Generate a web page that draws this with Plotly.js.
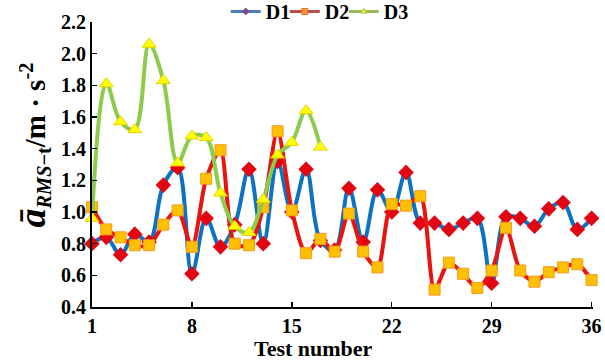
<!DOCTYPE html>
<html>
<head>
<meta charset="utf-8">
<script src="https://cdn.plot.ly/plotly-3.0.1.min.js"></script>
<style>html,body{margin:0;padding:0;background:#fff;}#chart{width:605px;height:363px;}</style>
</head>
<body>
<div id="chart"></div>
<script>
const testNumbers = Array.from({length: 36}, (_, i) => i + 1);
const d3Numbers = testNumbers.slice(0, 17);
const d1Values = [0.80, 0.84, 0.73, 0.86, 0.81, 1.17, 1.28, 0.61, 0.96, 0.78, 0.92, 1.27, 0.80, 1.32, 1.00, 1.27, 0.82, 0.76, 1.15, 0.81, 1.14, 1.00, 1.25, 0.93, 0.93, 0.89, 0.93, 0.96, 0.55, 0.97, 0.96, 0.91, 1.02, 1.06, 0.89, 0.96];
const d2Values = [1.03, 0.89, 0.84, 0.79, 0.79, 0.92, 1.01, 0.78, 1.21, 1.39, 0.80, 0.79, 1.03, 1.51, 1.01, 0.74, 0.83, 0.75, 0.99, 0.75, 0.65, 1.05, 1.04, 1.10, 0.51, 0.68, 0.61, 0.52, 0.63, 0.90, 0.63, 0.56, 0.62, 0.65, 0.67, 0.57];
const d3Values = [0.96, 1.81, 1.57, 1.52, 2.06, 1.83, 1.31, 1.48, 1.47, 1.12, 0.91, 0.87, 1.08, 1.36, 1.44, 1.64, 1.41];
const xTicks = [1, 8, 15, 22, 29, 36];
const seriesNames = ['D1', 'D2', 'D3'];

const serif = 'Liberation Serif';

const traces = [
  {x: testNumbers, y: d1Values, name: seriesNames[0], type: 'scatter', mode: 'lines+markers', showlegend: false, cliponaxis: false,
   line: {color: '#0E72C2', width: 4, shape: 'spline', smoothing: 1},
   marker: {symbol: 'diamond', size: 12, color: '#E20613', line: {width: 0}}},
  {x: testNumbers, y: d2Values, name: seriesNames[1], type: 'scatter', mode: 'lines+markers', showlegend: false, cliponaxis: false,
   line: {color: '#E8140E', width: 4, shape: 'spline', smoothing: 0.8},
   marker: {symbol: 'square', size: 11, color: '#FFC000', line: {width: 1, color: '#F39A1B'}}},
  {x: d3Numbers, y: d3Values, name: seriesNames[2], type: 'scatter', mode: 'lines+markers', showlegend: false, cliponaxis: false,
   line: {color: '#8DCB4A', width: 4, shape: 'spline', smoothing: 1},
   marker: {symbol: 'triangle-up', size: 12, color: '#FFFF00', line: {width: 1, color: '#E6D200'}}},
  {x: [null], y: [null], name: '<b>' + seriesNames[0] + '</b>', type: 'scatter', mode: 'lines+markers', showlegend: true,
   line: {color: '#4A7EBB', width: 3}, marker: {symbol: 'diamond', size: 6, color: '#7B4A8E'}},
  {x: [null], y: [null], name: '<b>' + seriesNames[1] + '</b>', type: 'scatter', mode: 'lines+markers', showlegend: true,
   line: {color: '#BE4B48', width: 3}, marker: {symbol: 'square', size: 6, color: '#F79646', line: {width: 1, color: '#E0761A'}}},
  {x: [null], y: [null], name: '<b>' + seriesNames[2] + '</b>', type: 'scatter', mode: 'lines+markers', showlegend: true,
   line: {color: '#9BBB59', width: 3}, marker: {symbol: 'triangle-up', size: 6, color: '#FFFF00', line: {width: 1, color: '#9BBB59'}}},
  {x: [null], y: [null], name: ' ', type: 'scatter', mode: 'none', showlegend: true}
];

const layout = {
  width: 605, height: 363,
  margin: {l: 92, r: 12, t: 22, b: 56, autoexpand: false},
  paper_bgcolor: '#fff', plot_bgcolor: '#fff',
  font: {family: serif, color: '#000'},
  showlegend: true,
  legend: {orientation: 'h', x: 0.267, xanchor: 'left', y: 1.037, yanchor: 'middle',
    font: {family: serif, size: 20, color: '#000'}, itemwidth: 30, tracegroupgap: 0,
    entrywidth: 14, entrywidthmode: 'pixels',
    bgcolor: 'rgba(0,0,0,0)'},
  xaxis: {
    range: [1, 36.1], tickvals: xTicks, ticktext: xTicks.map(v => '<b>' + v + '</b>'),
    ticks: 'inside', ticklen: 5, tickwidth: 1.5, tickcolor: '#000',
    showline: true, linecolor: '#000', linewidth: 2, showgrid: false, zeroline: false,
    tickfont: {family: serif, size: 20, color: '#000'}
  },
  yaxis: {
    range: [0.4, 2.2], dtick: 0.2, tick0: 0.4, tickformat: '.1f', tickprefix: '<b>', ticksuffix: '</b>',
    ticks: 'inside', ticklen: 5, tickwidth: 1.5, tickcolor: '#000',
    showline: true, linecolor: '#000', linewidth: 2, showgrid: false, zeroline: false,
    tickfont: {family: serif, size: 20, color: '#000'}
  },
  annotations: [
    {text: '<b>Test number</b>', xref: 'paper', yref: 'paper', x: 0.443, y: -0.147, xanchor: 'center', yanchor: 'middle',
     showarrow: false, font: {family: serif, size: 22, color: '#000'}},
    {text: '<b><i><span style="font-size:38px">ā</span></i><sub><i>RMS</i>−t</sub>/m · s<sup>-2</sup></b>', xref: 'paper', yref: 'paper',
     x: -0.118, y: 0.57, xanchor: 'center', yanchor: 'middle', textangle: -90,
     showarrow: false, font: {family: serif, size: 29, color: '#000'}}
  ]
};

Plotly.newPlot('chart', traces, layout, {displayModeBar: false, staticPlot: true});
</script>
</body>
</html>
